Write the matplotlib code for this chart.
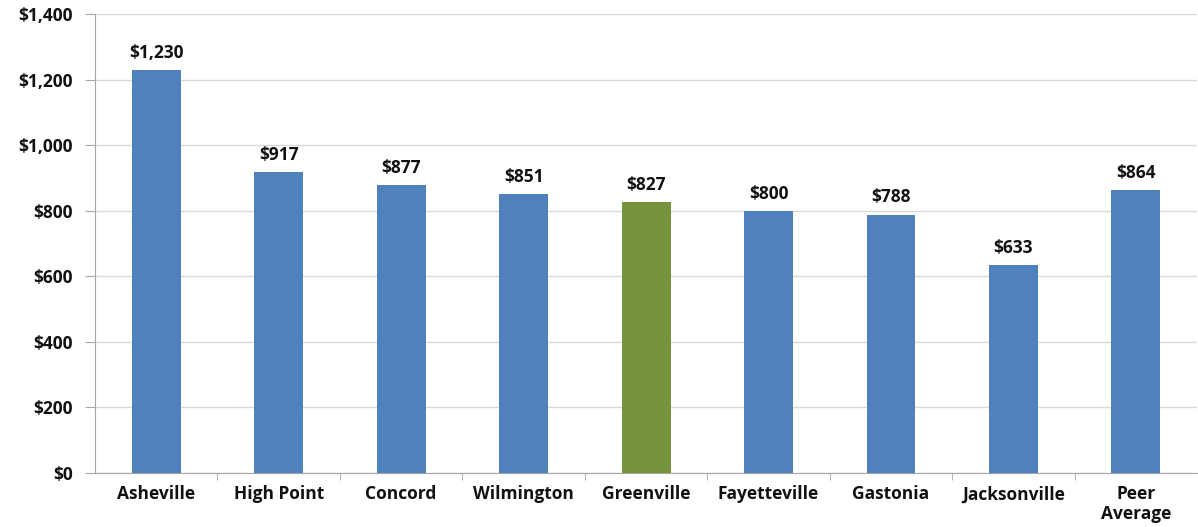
import matplotlib
matplotlib.use("Agg")
import matplotlib.pyplot as plt
from matplotlib.ticker import FuncFormatter, FixedLocator

CITIES = ["Asheville", "High Point", "Concord", "Wilmington", "Greenville",
          "Fayetteville", "Gastonia", "Jacksonville", "Peer\nAverage"]
VALUES = [1230, 917, 877, 851, 827, 800, 788, 633, 864]
HIGHLIGHT = "Greenville"

BLUE = "#4F81BD"
GREEN = "#77933C"
GRID = "#D9D9D9"
FONT = "Open Sans"
TEXT = "#111111"

fig = plt.figure(figsize=(11.98, 5.27), dpi=100)
ax = fig.add_axes([0.0793, 0.1025, 0.92, 0.8709])

xs = list(range(len(CITIES)))
colors = [GREEN if c == HIGHLIGHT else BLUE for c in CITIES]
ax.bar(xs, VALUES, width=0.4, color=colors, zorder=3)

for x, v in zip(xs, VALUES):
    ax.text(x, v + 25, f"${v:,}", ha="center", va="bottom", fontsize=12.5,
            fontweight="bold", family=FONT, color=TEXT)

ax.set_xlim(-0.5, len(CITIES) - 0.5)
ax.set_ylim(0, 1400)
ax.set_yticks(range(0, 1401, 200))
ax.yaxis.set_major_formatter(FuncFormatter(lambda v, _: f"${v:,.0f}"))
ax.grid(axis="y", color=GRID, linewidth=1.0, zorder=0)
ax.set_axisbelow(True)

ax.set_xticks(xs)
ax.set_xticklabels(CITIES, fontsize=12.5, fontweight="bold", family=FONT,
                   color=TEXT, linespacing=1.1)
ax.tick_params(axis="x", length=0, pad=9)
ax.xaxis.set_minor_locator(FixedLocator([x + 0.5 for x in xs[:-1]]))
ax.tick_params(axis="x", which="minor", length=5, color="#A6A6A6", direction="out")
ax.tick_params(axis="y", length=7, color="#A6A6A6", pad=9, labelsize=12.5)
for lab in ax.get_yticklabels():
    lab.set_fontweight("bold")
    lab.set_family(FONT)
    lab.set_color(TEXT)

for side in ["top", "right"]:
    ax.spines[side].set_visible(False)
for side in ["left", "bottom"]:
    ax.spines[side].set_color("#A6A6A6")

fig.savefig("out.png", dpi=100)
